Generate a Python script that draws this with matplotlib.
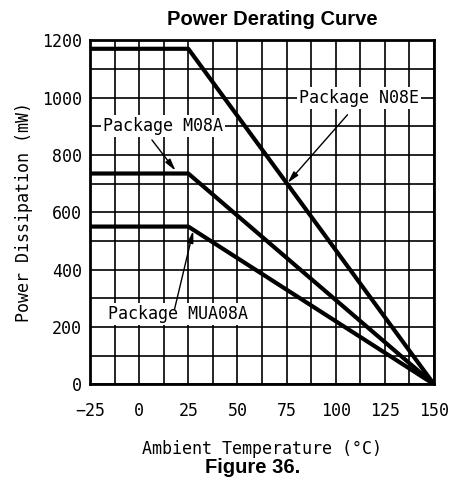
import matplotlib
matplotlib.use("Agg")
import matplotlib.pyplot as plt
import matplotlib.ticker as ticker

# data
temps = [-25, 25, 150]
p_n08e = [1170, 1170, 0]
p_m08a = [735, 735, 0]
p_mua08a = [550, 550, 0]

x_ticks = [-25, 0, 25, 50, 75, 100, 125, 150]
y_ticks = [0, 200, 400, 600, 800, 1000, 1200]

MONO = "DejaVu Sans Mono"

fig = plt.figure(figsize=(4.51, 4.84), dpi=100)
ax = fig.add_axes([0.1996, 0.206, 0.7627, 0.711])

for p in (p_n08e, p_m08a, p_mua08a):
    ax.plot(temps, p, color="black", lw=3.0, solid_capstyle="butt", zorder=3)

ax.set_xlim(-25, 150)
ax.set_ylim(0, 1200)
ax.xaxis.set_major_locator(ticker.FixedLocator(x_ticks))
ax.yaxis.set_major_locator(ticker.FixedLocator(y_ticks))
ax.xaxis.set_minor_locator(ticker.MultipleLocator(12.5))
ax.yaxis.set_minor_locator(ticker.MultipleLocator(100))
ax.set_xticklabels([f"{t}".replace("-", "\u2212") for t in x_ticks], family=MONO, fontsize=12)
ax.set_yticklabels([str(t) for t in y_ticks], family=MONO, fontsize=12)
ax.tick_params(axis="both", which="both", length=0)
ax.tick_params(axis="x", pad=13)
ax.tick_params(axis="y", pad=6)
ax.grid(True, which="both", color="black", lw=1.2)
ax.set_axisbelow(True)
for s in ax.spines.values():
    s.set_linewidth(2.0)

ax.set_xlabel("Ambient Temperature (\u00b0C)", family=MONO, fontsize=12, labelpad=14)
ax.set_ylabel("Power Dissipation (mW)", family=MONO, fontsize=12, labelpad=6)
ax.set_title("Power Derating Curve", family="Liberation Sans", fontweight="bold",
             fontsize=14.5, pad=11, x=0.53)
fig.text(0.56, 0.035, "Figure 36.", family="Liberation Sans", fontweight="bold",
         fontsize=14.5, ha="center", va="center")

box = dict(facecolor="white", edgecolor="none", pad=1.5)
labels = [
    ("Package N08E", (112, 1000), (106, 940), (75.5, 702)),
    ("Package M08A", (12, 900), (6.5, 852), (18.5, 745)),
    ("Package MUA08A", (20, 245), (18, 262), (27.5, 535)),
]
for txt, pos, start, tip in labels:
    ax.text(pos[0], pos[1], txt, family=MONO, fontsize=12, ha="center",
            va="center", bbox=box, zorder=4)
    ax.annotate("", xy=tip, xytext=start,
                arrowprops=dict(arrowstyle="-|>,head_length=0.7,head_width=0.18",
                                color="black", lw=1.0, shrinkA=0, shrinkB=0),
                zorder=4)

fig.savefig("out.png", dpi=100)
